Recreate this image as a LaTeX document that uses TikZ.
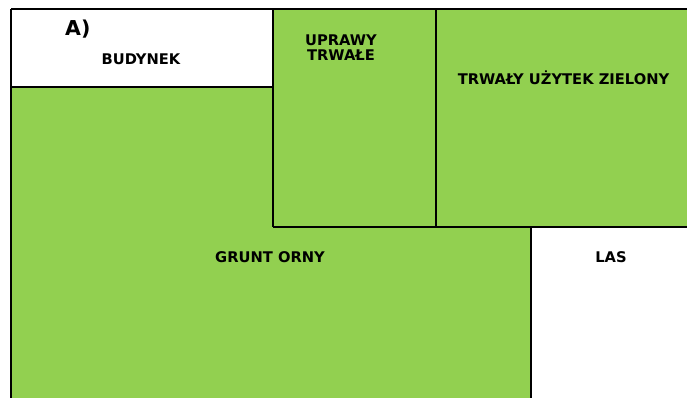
\documentclass[tikz,border=0pt]{standalone}
\usepackage{fontspec}
\setmainfont{DejaVu Sans}
\definecolor{landgreen}{HTML}{92D050}
\begin{document}
\begin{tikzpicture}[x=1pt,y=-1pt,
  borderline/.style={line width=1.4pt, black},
  lbl/.style={inner sep=0pt, font=\fontsize{14.7}{13.4}\selectfont\bfseries, text=black}]
\useasboundingbox (0,0) rectangle (687,398);
% green area
\fill[landgreen] (11,87) -- (273,87) -- (273,9) -- (687,9) -- (687,227) -- (531,227) -- (531,398) -- (11,398) -- cycle;
% borders
\draw[borderline] (11,9) -- (687,9);
\draw[borderline] (11,9) -- (11,398);
\draw[borderline] (11,87) -- (273,87);
\draw[borderline] (273,9) -- (273,227);
\draw[borderline] (436,9) -- (436,227);
\draw[borderline] (273,227) -- (687,227);
\draw[borderline] (531,227) -- (531,398);
% labels
\node[lbl, font=\fontsize{20.5}{22}\selectfont\bfseries, anchor=base west] (a) at (65,36) {A)};
\node[lbl, anchor=base] (budynek) at (141,64.3) {BUDYNEK};
\node[lbl, font=\fontsize{14.7}{14.8}\selectfont\bfseries, align=center, anchor=center] (uprawy) at (341,47.5) {UPRAWY\\TRWAŁE};
\node[lbl, anchor=base] (tuz) at (563.5,85) {TRWAŁY UŻYTEK ZIELONY};
\node[lbl, anchor=base] (grunt) at (270,262) {GRUNT ORNY};
\node[lbl, anchor=base] (las) at (611,262.7) {LAS};
\end{tikzpicture}
\end{document}
